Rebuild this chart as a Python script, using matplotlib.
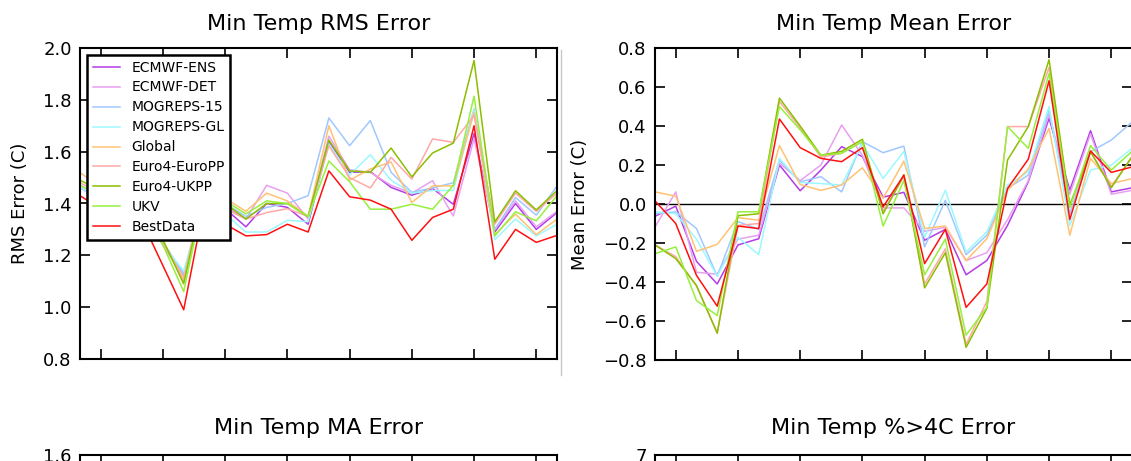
import numpy as np
import matplotlib
matplotlib.use("Agg")
import matplotlib.pyplot as plt
from matplotlib.lines import Line2D

models = ["ECMWF-ENS", "ECMWF-DET", "MOGREPS-15", "MOGREPS-GL", "Global",
          "Euro4-EuroPP", "Euro4-UKPP", "UKV", "BestData"]
colours = ["#b43ce6", "#e8a0f0", "#a0c8ff", "#9cf8ff", "#ffc273",
           "#ffa8a8", "#8cbe00", "#96f03c", "#ff1010"]
days = np.arange(24)
xticks = np.arange(1, 24, 3)

# RMS error (C)
rms_ens = [1.46, 1.42, 1.39, 1.37, 1.24, 1.12, 1.43, 1.38, 1.31, 1.40, 1.385, 1.32,
           1.64, 1.52, 1.523, 1.462, 1.432, 1.458, 1.397, 1.67, 1.29, 1.40, 1.30, 1.365]
rms_det = [1.46, 1.42, 1.39, 1.37, 1.24, 1.12, 1.43, 1.39, 1.34, 1.47, 1.44, 1.34,
           1.66, 1.53, 1.52, 1.47, 1.44, 1.488, 1.352, 1.65, 1.30, 1.41, 1.31, 1.37]
rms_mog15 = [1.47, 1.43, 1.40, 1.38, 1.25, 1.13, 1.44, 1.40, 1.35, 1.385, 1.40, 1.43,
             1.73, 1.623, 1.72, 1.52, 1.443, 1.46, 1.48, 1.765, 1.30, 1.423, 1.355, 1.468]
rms_mogGL = [1.46, 1.42, 1.38, 1.36, 1.24, 1.14, 1.42, 1.36, 1.29, 1.29, 1.335, 1.33,
             1.63, 1.51, 1.588, 1.49, 1.44, 1.45, 1.45, 1.76, 1.26, 1.34, 1.275, 1.32]
rms_global = [1.52, 1.46, 1.42, 1.40, 1.25, 1.11, 1.46, 1.42, 1.37, 1.44, 1.41, 1.35,
              1.70, 1.49, 1.533, 1.56, 1.404, 1.468, 1.468, 1.75, 1.28, 1.359, 1.28, 1.34]
rms_europp = [1.48, 1.44, 1.41, 1.39, 1.25, 1.10, 1.44, 1.38, 1.34, 1.365, 1.38, 1.35,
              1.623, 1.50, 1.46, 1.578, 1.494, 1.649, 1.636, 1.74, 1.32, 1.44, 1.37, 1.44]
rms_ukpp = [1.49, 1.45, 1.42, 1.40, 1.26, 1.09, 1.45, 1.40, 1.34, 1.40, 1.40, 1.35,
            1.645, 1.526, 1.52, 1.614, 1.503, 1.595, 1.633, 1.952, 1.329, 1.449, 1.375, 1.45]
rms_ukv = [1.47, 1.43, 1.40, 1.38, 1.24, 1.06, 1.44, 1.41, 1.36, 1.41, 1.40, 1.35,
           1.564, 1.484, 1.378, 1.378, 1.397, 1.378, 1.47, 1.814, 1.275, 1.368, 1.333, 1.43]
rms_best = [1.43, 1.38, 1.36, 1.33, 1.16, 0.99, 1.40, 1.32, 1.275, 1.28, 1.32, 1.29,
            1.526, 1.426, 1.413, 1.378, 1.258, 1.346, 1.378, 1.70, 1.185, 1.30, 1.25, 1.277]

# Mean error (C)
me_ens = [-0.063, -0.011, -0.294, -0.41, -0.21, -0.178, 0.20, 0.068, 0.174, 0.294, 0.243, 0.035,
          0.06, -0.186, -0.13, -0.363, -0.29, -0.109, 0.114, 0.44, 0.071, 0.376, 0.062, 0.083]
me_det = [-0.118, 0.062, -0.35, -0.36, -0.18, -0.16, 0.21, 0.12, 0.20, 0.405, 0.25, -0.02,
          -0.02, -0.14, -0.12, -0.29, -0.25, -0.08, 0.12, 0.46, 0.05, 0.36, 0.05, 0.07]
me_mog15 = [-0.05, -0.04, -0.126, -0.37, -0.09, -0.13, 0.225, 0.114, 0.14, 0.062, 0.32, 0.263,
            0.297, -0.22, 0.019, -0.26, -0.16, 0.08, 0.148, 0.483, -0.05, 0.268, 0.328, 0.42]
me_mogGL = [-0.04, -0.05, -0.18, -0.37, -0.17, -0.26, 0.234, 0.11, 0.105, 0.097, 0.31, 0.131,
            0.27, -0.17, 0.07, -0.246, -0.143, 0.097, 0.165, 0.50, -0.11, 0.174, 0.20, 0.285]
me_global = [0.062, 0.04, -0.243, -0.207, -0.07, -0.083, 0.30, 0.10, 0.07, 0.097, 0.186, 0.03,
             0.22, -0.126, -0.113, -0.29, -0.178, 0.07, 0.18, 0.388, -0.16, 0.234, 0.105, 0.13]
me_europp = [-0.21, -0.27, -0.42, -0.66, -0.11, -0.10, 0.526, 0.39, 0.24, 0.26, 0.32, -0.04,
             0.14, -0.41, -0.23, -0.72, -0.50, 0.397, 0.397, 0.70, -0.01, 0.27, 0.09, 0.24]
me_ukpp = [-0.21, -0.28, -0.418, -0.663, -0.06, -0.05, 0.543, 0.40, 0.25, 0.27, 0.332, -0.05,
           0.15, -0.43, -0.25, -0.735, -0.535, 0.226, 0.397, 0.74, -0.006, 0.268, 0.083, 0.243]
me_ukv = [-0.255, -0.22, -0.495, -0.572, -0.04, -0.04, 0.50, 0.38, 0.25, 0.26, 0.32, -0.113,
          0.12, -0.363, -0.18, -0.672, -0.53, 0.397, 0.285, 0.67, -0.02, 0.30, 0.174, 0.27]
me_best = [0.016, -0.10, -0.366, -0.524, -0.113, -0.126, 0.436, 0.289, 0.234, 0.217, 0.289, -0.015,
           0.148, -0.306, -0.13, -0.53, -0.41, 0.08, 0.23, 0.632, -0.08, 0.272, 0.162, 0.19]

rms = [rms_ens, rms_det, rms_mog15, rms_mogGL, rms_global, rms_europp, rms_ukpp, rms_ukv, rms_best]
me = [me_ens, me_det, me_mog15, me_mogGL, me_global, me_europp, me_ukpp, me_ukv, me_best]

# bottom row only shows its top tick label
ma_ticks = [0.6, 0.8, 1.0, 1.2, 1.4, 1.6]
ma_labels = ["", "", "", "", "", "1.6"]
pct_ticks = [0, 1, 2, 3, 4, 5, 6, 7]
pct_labels = ["", "", "", "", "", "", "", "7"]

W, H = 1131, 461
fig = plt.figure(figsize=(W / 100, H / 100), dpi=100)


def box(x0, y0, w, h):
    # pixel box (top-left origin) -> figure fraction
    return [x0 / W, 1 - (y0 + h) / H, w / W, h / H]


def style(ax):
    for s in ax.spines.values():
        s.set_linewidth(1.5)
    ax.tick_params(direction="in", length=7, width=1.2, top=True, right=True,
                   labelsize=13, pad=6)
    ax.set_xlim(days[0], days[-1])
    ax.set_xticks(xticks)
    ax.set_xticklabels([])


ax1 = fig.add_axes(box(80, 48, 477, 311))
ax2 = fig.add_axes(box(655, 48, 477, 312))
ax3 = fig.add_axes(box(80, 455, 477, 311))
ax4 = fig.add_axes(box(655, 455, 477, 311))

for ax in (ax1, ax2, ax3, ax4):
    style(ax)

for name, col, vals in zip(models, colours, rms):
    ax1.plot(days, vals, color=col, lw=1.1, label=name)
ax1.set_ylim(0.8, 2.0)
ax1.set_yticks(np.arange(0.8, 2.01, 0.2))
ax1.set_ylabel("RMS Error (C)", fontsize=13, labelpad=10)
ax1.set_title("Min Temp RMS Error", fontsize=16, pad=13)
leg = ax1.legend(loc="upper left", fontsize=10, handlelength=2.0, handletextpad=0.8,
                 labelspacing=0.43, borderpad=0.4, borderaxespad=0.5, fancybox=False,
                 framealpha=1)
leg.get_frame().set_edgecolor("black")
leg.get_frame().set_linewidth(1.8)

ax2.axhline(0, color="black", lw=1)
for name, col, vals in zip(models, colours, me):
    ax2.plot(days, vals, color=col, lw=1.1, label=name)
ax2.set_ylim(-0.8, 0.8)
ax2.set_yticks(np.arange(-0.8, 0.81, 0.2))
ax2.set_ylabel("Mean Error (C)", fontsize=13, labelpad=10)
ax2.set_title("Min Temp Mean Error", fontsize=16, pad=13)

ax3.set_ylim(0.6, 1.6)
ax3.set_yticks(ma_ticks)
ax3.set_yticklabels(ma_labels)
ax3.set_title("Min Temp MA Error", fontsize=16, pad=15)
ax4.set_ylim(0, 7)
ax4.set_yticks(pct_ticks)
ax4.set_yticklabels(pct_labels)
ax4.set_title("Min Temp %>4C Error", fontsize=16, pad=15)

fig.add_artist(Line2D([561 / W, 561 / W], [1 - 50 / H, 1 - 375 / H], color="#c8c8c8", lw=1))

fig.savefig("out.png", dpi=100)
